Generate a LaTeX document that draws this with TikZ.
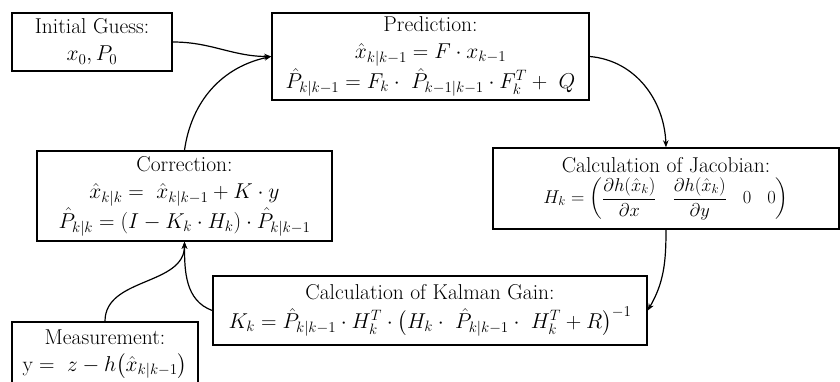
\RequirePackage{fix-cm}
\documentclass[tikz,border=0pt]{standalone}
\usepackage{amsmath}
\usetikzlibrary{arrows.meta}
\begin{document}
\begin{tikzpicture}[x=1pt,y=1pt,
  box/.style={draw,line width=1.5pt,inner sep=0pt,align=center,
    font=\fontsize{21.5}{27}\selectfont},
  conn/.style={line width=1.2pt,-{Stealth[length=7pt,width=5.5pt]}}]
\useasboundingbox (0,0) rectangle (840,381);
\clip (0,0) rectangle (840,381);
\node[box,minimum width=160pt,minimum height=58pt] (init) at (92,339)
  {Initial Guess:\\$x_0, P_0$};
\node[box,minimum width=317pt,minimum height=87pt] (pred) at (430.5,324.5)
  {Prediction:\\$\hat{x}_{k|k-1} = F\cdot x_{k-1}$\\[1pt]
   $\hat{P}_{k|k-1} = F_k\cdot\ \hat{P}_{k-1|k-1}\cdot F_k^T +\ Q$};
\node[box,minimum width=346pt,minimum height=81pt] (jac) at (666,192.5)
  {Calculation of Jacobian:\\[4pt]
   {\fontsize{18.5}{20}\selectfont\setlength{\arraycolsep}{8pt}$H_k = \begin{pmatrix} \dfrac{\partial h(\hat{x}_k)}{\partial x} & \dfrac{\partial h(\hat{x}_k)}{\partial y} & 0 & 0\end{pmatrix}$}};
\node[box,minimum width=295pt,minimum height=90pt] (corr) at (184.5,185)
  {Correction:\\$\hat{x}_{k|k} =\ \hat{x}_{k|k-1} + K\cdot y$\\[1pt]
   $\hat{P}_{k|k} = (I - K_k\cdot H_k)\cdot\hat{P}_{k|k-1}$};
\node[box,minimum width=434pt,minimum height=69pt] (kal) at (430,70.5)
  {Calculation of Kalman Gain:\\[2pt]
   $K_k = \hat{P}_{k|k-1}\cdot H_k^T\cdot\bigl(H_k\cdot\ \hat{P}_{k|k-1}\cdot\ H_k^T + R\bigr)^{-1}$};
\node[box,minimum width=186pt,minimum height=64pt] (meas) at (105,27)
  {Measurement:\\$\text{y} =\ z - h\bigl(\hat{x}_{k|k-1}\bigr)$};
\draw[conn] (init.east) to[out=0,in=180] (pred.west);
\draw[conn] (corr.north) to[out=82,in=192] (pred.west);
\draw[conn] (pred.east) to[out=-5,in=92] (jac.north);
\draw[conn] (jac.south) to[out=-90,in=60] (kal.east);
\draw[conn] (kal.west) to[out=160,in=-90] (corr.south);
\draw[conn] (meas.north) to[out=90,in=-90] (corr.south);
\end{tikzpicture}
\end{document}
